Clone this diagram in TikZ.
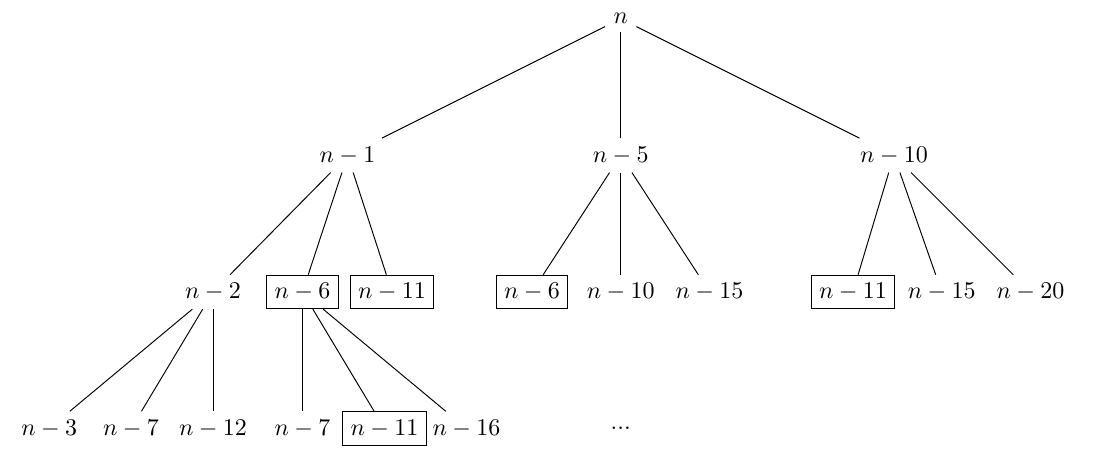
\documentclass[tikz,border=0pt]{standalone}
\usepackage{tikz}
\usepackage{amsmath}
\usetikzlibrary{positioning}

\begin{document}
\begin{tikzpicture}[
			% 带边框的长方形,标出重复出现的子问题
			boxednode/.style={rectangle, draw=black},
			% 没有边框的普通节点
			plainnode/.style={rectangle},
			on grid, node distance=2cm
		]
		\useasboundingbox (-9.09,-6.40) rectangle (6.93,0.275);
		\node[plainnode]      (root)                                                      {$n$};
		\node[plainnode]      (nfive)         [below=of root]                             {$n-5$};
		\node[plainnode]      (none)          [left=4cm of nfive]                         {$n-1$};
		\node[plainnode]      (nten)          [right=4cm of nfive]                        {$n-10$};
		%Nodes
		\node[plainnode]      (ntwo)          [below left=2cm and 1.97cm of none]         {$n-2$};
		\node[boxednode]      (nsix)          [right=1.31cm of ntwo]                      {$n-6$};
		\node[boxednode]      (neleven)       [right=1.31cm of nsix]                      {$n-11$};
		\node[boxednode]      (msix)          [below left=2cm and 1.3cm of nfive]         {$n-6$};
		\node[plainnode]      (mten)          [below=of nfive]                            {$n-10$};
		\node[plainnode]      (mfifteen)      [below right=2cm and 1.3cm of nfive]        {$n-15$};
		\node[plainnode]      (rtwenty)       [below right=2cm and 2cm of nten]           {$n-20$};
		\node[plainnode]      (rfifteen)      [left=1.3cm of rtwenty]                     {$n-15$};
		\node[boxednode]      (releven)       [left=1.3cm of rfifteen]                    {$n-11$};
		%Nodes
		\node[plainnode]      (ltwelve)       [below=of ntwo]                             {$n-12$};
		\node[plainnode]      (lseven)        [left=1.2cm of ltwelve]                     {$n-7$};
		\node[plainnode]      (lthree)        [left=1.2cm of lseven]                      {$n-3$};
		\node[plainnode]      (sseven)        [below=of nsix]                             {$n-7$};
		\node[boxednode]      (seleven)       [right=1.2cm of sseven]                     {$n-11$};
		\node[plainnode]      (ssixteen)      [right=1.2cm of seleven]                    {$n-16$};
		\node[plainnode]      (dots)          [below=of mten]                             {...};

		%Lines
		\draw[-] (root)            --            (none);
		\draw[-] (root)            --            (nfive);
		\draw[-] (root)            --            (nten);
		\draw[-] (none)            --            (ntwo);
		\draw[-] (none)            --            (nsix);
		\draw[-] (none)            --            (neleven);
		\draw[-] (nfive)           --            (msix);
		\draw[-] (nfive)           --            (mten);
		\draw[-] (nfive)           --            (mfifteen);
		\draw[-] (nten)            --            (releven);
		\draw[-] (nten)            --            (rfifteen);
		\draw[-] (nten)            --            (rtwenty);
		\draw[-] (ntwo)            --            (lthree);
		\draw[-] (ntwo)            --            (lseven);
		\draw[-] (ntwo)            --            (ltwelve);
		\draw[-] (nsix)            --            (sseven);
		\draw[-] (nsix)            --            (seleven);
		\draw[-] (nsix)            --            (ssixteen);
	\end{tikzpicture}
\end{document}
